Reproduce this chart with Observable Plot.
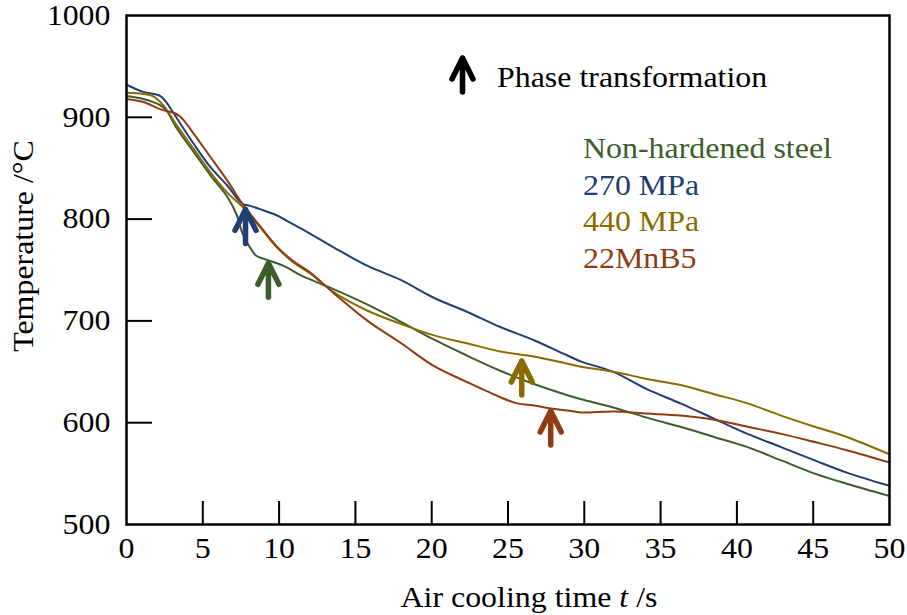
<!DOCTYPE html>
<html>
<head>
<meta charset="utf-8">
<script src="https://cdn.jsdelivr.net/npm/d3@7"></script>
<script src="https://cdn.jsdelivr.net/npm/@observablehq/plot@0.6"></script>
<style>
  html, body { margin: 0; padding: 0; background: #fff; }
</style>
</head>
<body>
<div id="chart"></div>
<script>
// Cooling curves after austenitising, four steel grades
const seriesNames = ["Non-hardened steel", "270 MPa", "440 MPa", "22MnB5"];
const seriesColors = ["#3d5e2b", "#213d73", "#8a6b00", "#8f3c12"];

const nonHardenedTime = [0, 1.1, 2.2, 2.6, 3.3, 4.4, 5.5, 6.6, 7.2, 7.6, 8.1, 8.5, 9.2, 10.3, 11.4, 12.0, 13.6, 15.8, 18.0, 20.1, 22.3, 24.5, 26.7, 28.9, 29.8, 31.9, 34.1, 36.3, 38.5, 40.7, 42.9, 45.1, 47.2, 50.0];
const nonHardenedTemp = [921, 918, 912, 907, 889, 866, 843, 822, 805, 786, 772, 764, 760, 754, 745, 741, 731, 716, 699, 682, 666, 651, 638, 627, 623, 615, 605, 596, 586, 576, 563, 550, 540, 528];

const mpa270Time = [0, 1.1, 2.2, 2.6, 3.3, 4.4, 5.5, 6.6, 7.6, 8.1, 8.7, 9.8, 10.9, 12.0, 13.6, 15.8, 18.0, 20.1, 22.3, 24.5, 26.7, 28.9, 29.8, 31.9, 34.1, 36.3, 38.5, 40.7, 42.9, 45.1, 47.2, 50.0];
const mpa270Temp = [932, 925, 921, 915, 899, 874, 851, 833, 815, 813, 810, 804, 795, 786, 772, 754, 740, 723, 709, 694, 681, 666, 660, 650, 633, 619, 604, 589, 576, 563, 551, 538];

const mpa440Time = [0, 1.1, 1.7, 2.4, 3.3, 4.4, 5.5, 6.6, 7.6, 8.7, 9.8, 10.9, 12.0, 13.6, 15.8, 18.0, 20.1, 22.3, 24.5, 26.7, 28.9, 29.8, 31.9, 34.1, 36.3, 38.5, 40.7, 42.9, 45.1, 47.2, 50.0];
const mpa440Temp = [924, 923, 921, 912, 892, 869, 846, 826, 812, 793, 773, 758, 747, 728, 710, 697, 686, 678, 670, 665, 658, 655, 650, 643, 637, 628, 619, 607, 596, 586, 569];

const mn22Time = [0, 1.1, 2.2, 3.3, 3.7, 4.4, 5.5, 6.6, 7.6, 8.7, 9.8, 10.9, 12.0, 13.6, 15.8, 18.0, 20.1, 22.3, 24.5, 25.6, 26.7, 27.8, 28.9, 29.8, 31.9, 34.1, 36.3, 38.5, 40.7, 42.9, 45.1, 47.2, 50.0];
const mn22Temp = [918, 915, 908, 903, 898, 884, 861, 838, 815, 794, 774, 759, 748, 727, 700, 678, 656, 640, 625, 619, 617, 614, 612, 610, 611, 609, 607, 603, 596, 589, 581, 573, 561];

// Onset of phase transformation for each grade (same order as seriesNames)
const phaseTime = [9.3, 7.8, 25.9, 27.8];
const phaseTemp = [759, 812, 663, 614];

const xTickLabels = [0, 5, 10, 15, 20, 25, 30, 35, 40, 45, 50];
const xTicks = [5, 10, 15, 20, 25, 30, 35, 40, 45];
const yTickLabels = [500, 600, 700, 800, 900, 1000];
const yTicks = [600, 700, 800, 900];

const times = [nonHardenedTime, mpa270Time, mpa440Time, mn22Time];
const temps = [nonHardenedTemp, mpa270Temp, mpa440Temp, mn22Temp];
const rows = [];
seriesNames.forEach((name, i) => {
  times[i].forEach((t, j) => rows.push({series: name, t, temp: temps[i][j]}));
});
const phaseRows = seriesNames.map((name, i) => ({series: name, t: phaseTime[i], temp: phaseTemp[i]}));

const W = 907, H = 615, ML = 126, MR = 18, MT = 15, MB = 91;
const serif = "'Liberation Serif', 'Times New Roman', Times, serif";
const fontPx = 29;

// Upward arrow: tip at the origin, shaft pointing down
const arrowSymbol = {
  draw(ctx, size) {
    const r = Math.sqrt(size / Math.PI);
    const o = 0.25 * r;
    ctx.moveTo(0, 3.4 * r + o);
    ctx.lineTo(0, o);
    ctx.moveTo(-1.05 * r, 2.1 * r + o);
    ctx.lineTo(0, o);
    ctx.lineTo(1.05 * r, 2.1 * r + o);
  }
};
const arrowStyle = {fill: "none", symbol: arrowSymbol, r: 10, strokeWidth: 5.5, strokeLinecap: "round", strokeLinejoin: "round"};

const chart = Plot.plot({
  width: W, height: H,
  marginLeft: ML, marginRight: MR, marginTop: MT, marginBottom: MB,
  style: {fontFamily: serif, fontSize: fontPx + "px", background: "#fff", color: "#000"},
  x: {domain: [0, 50], label: null},
  y: {domain: [500, 1000], label: null},
  color: {domain: seriesNames, range: seriesColors},
  marks: [
    Plot.axisX({ticks: xTickLabels, tickFormat: d => String(d), tickSize: 0, tickPadding: 13, label: null}),
    Plot.axisY({ticks: yTickLabels, tickFormat: d => String(d), tickSize: 0, tickPadding: 16, label: null}),
    Plot.tickX(xTicks, {x: d => d, insetTop: H - MT - MB - 23, stroke: "#000", strokeWidth: 2}),
    Plot.tickY(yTicks, {y: d => d, insetRight: W - ML - MR - 26, stroke: "#000", strokeWidth: 2}),
    Plot.line(rows, {x: "t", y: "temp", z: "series", stroke: "series", strokeWidth: 2, curve: "catmull-rom"}),
    Plot.dot(phaseRows, {x: "t", y: "temp", stroke: "series", ...arrowStyle}),
    Plot.dot([0], {x: null, y: null, frameAnchor: "top-left", dx: 336, dy: 40, stroke: "#000", ...arrowStyle}),
    Plot.frame({stroke: "#000", strokeWidth: 2.5})
  ]
});

document.getElementById("chart").append(chart);

// Titles and legend text
const svg = d3.select(chart);
const notes = svg.append("g")
  .attr("font-family", serif)
  .attr("font-size", fontPx)
  .attr("text-anchor", "start");

notes.append("text").attr("x", ML + 371).attr("y", MT + 72).attr("fill", "#000").text("Phase transformation");

seriesNames.forEach((name, i) => {
  notes.append("text")
    .attr("x", ML + 457)
    .attr("y", MT + 143 + i * 36.7)
    .attr("fill", seriesColors[i])
    .text(name);
});

const xTitle = notes.append("text")
  .attr("x", 529).attr("y", H - 8)
  .attr("text-anchor", "middle").attr("fill", "#000");
xTitle.append("tspan").text("Air cooling time ");
xTitle.append("tspan").attr("font-style", "italic").text("t");
xTitle.append("tspan").text(" /s");

notes.append("text")
  .attr("transform", `translate(33,246) rotate(-90)`)
  .attr("text-anchor", "middle").attr("fill", "#000")
  .text("Temperature /\u00B0C");

// Slightly wider glyphs for all text
svg.selectAll("text").each(function () {
  const len = this.getComputedTextLength();
  if (len > 0) {
    this.setAttribute("textLength", (len * 1.1).toFixed(1));
    this.setAttribute("lengthAdjust", "spacingAndGlyphs");
  }
});
</script>
</body>
</html>
